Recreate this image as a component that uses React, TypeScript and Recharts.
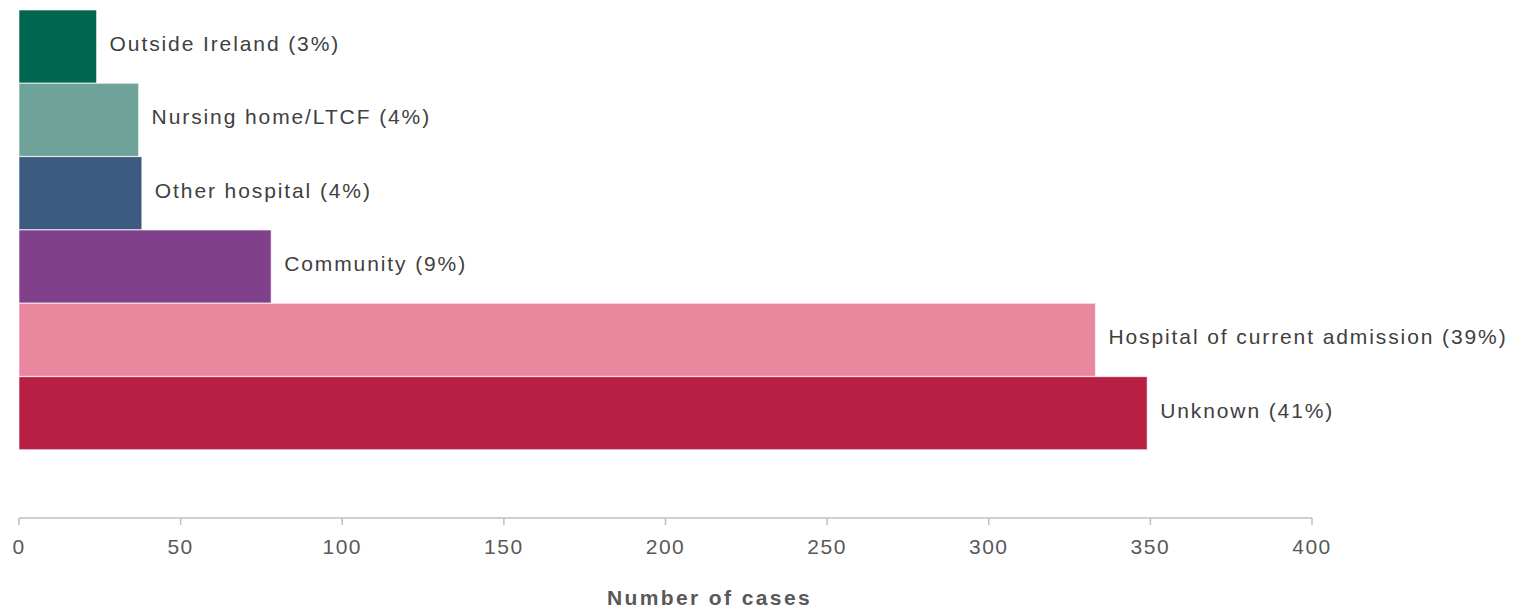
import React from "react";
import { BarChart, Bar, XAxis, YAxis, Cell, LabelList } from "recharts";

const categories = [
  "Outside Ireland",
  "Nursing home/LTCF",
  "Other hospital",
  "Community",
  "Hospital of current admission",
  "Unknown",
];
const cases = [24, 37, 38, 78, 333, 349];
const percents = [3, 4, 4, 9, 39, 41];
const xTicks = [0, 50, 100, 150, 200, 250, 300, 350, 400];

const BAR_COLORS = ["#00664f", "#6fa39a", "#3d5a80", "#80408c", "#e9879f", "#b81f43"];

const data = categories.map((name, i) => ({
  name,
  value: cases[i],
  label: `${name} (${percents[i]}%)`,
}));

const FONT = "'Liberation Sans', Arial, sans-serif";

export default function App() {
  return (
    <div style={{ position: "absolute", left: 0, top: 0, width: 1520, height: 610, background: "#fff" }}>
      <BarChart
        width={1520}
        height={610}
        data={data}
        layout="vertical"
        margin={{ top: 10, right: 208, bottom: 0, left: 19 }}
        barCategoryGap={0}
      >
        <XAxis
          type="number"
          domain={[0, 400]}
          ticks={xTicks}
          interval={0}
          height={92}
          axisLine={{ stroke: "#bfbfbf", strokeWidth: 1.5 }}
          tickLine={{ stroke: "#bfbfbf", strokeWidth: 1.5 }}
          tickSize={7}
          tickMargin={14}
          tick={{ fill: "#595959", fontSize: 21, fontFamily: FONT, letterSpacing: 1.5 }}
          label={{
            value: "Number of cases",
            position: "bottom",
            offset: -20,
            dx: 44,
            style: { fill: "#595959", fontSize: 21, fontWeight: 700, fontFamily: FONT, letterSpacing: 2.4 },
          }}
        />
        <YAxis
          type="category"
          dataKey="name"
          hide
          padding={{ top: 0, bottom: 68 }}
        />
        <Bar dataKey="value" isAnimationActive={false} stroke="#ffffff" strokeOpacity={0.6} strokeWidth={1}>
          {data.map((_, i) => (
            <Cell key={`c-${i}`} fill={BAR_COLORS[i]} />
          ))}
          <LabelList
            dataKey="label"
            position="right"
            offset={13}
            dy={-3}
            style={{ fill: "#404040", fontSize: 21, fontFamily: FONT, letterSpacing: 1.9 }}
          />
        </Bar>
      </BarChart>
    </div>
  );
}
